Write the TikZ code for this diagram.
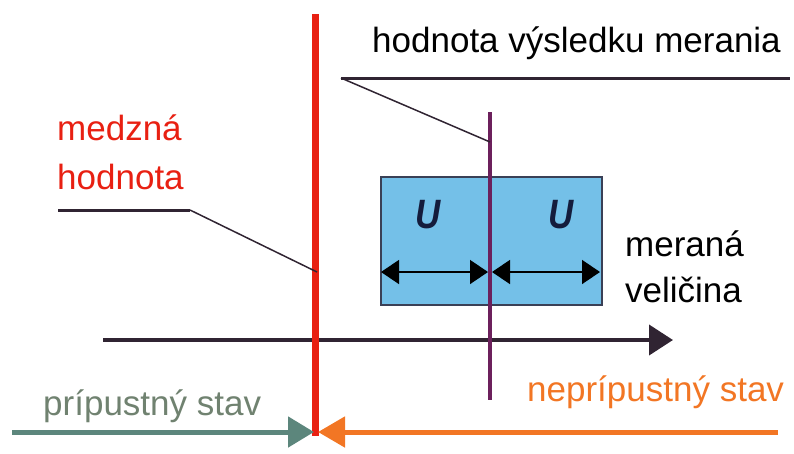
\documentclass[tikz,border=0pt]{standalone}
\usepackage{fontspec}
\setmainfont{Liberation Sans}
\usetikzlibrary{arrows.meta}
\definecolor{limred}{RGB}{232,32,18}
\definecolor{resviolet}{RGB}{108,32,92}
\definecolor{darkline}{RGB}{48,36,50}
\definecolor{boxfill}{RGB}{116,192,232}
\definecolor{boxedge}{RGB}{58,64,86}
\definecolor{okgreen}{RGB}{92,134,124}
\definecolor{oktext}{RGB}{112,130,112}
\definecolor{nokorange}{RGB}{242,118,36}
\definecolor{ulabel}{RGB}{20,28,60}
\tikzset{
  lbl/.style={inner sep=0pt, anchor=base west, font=\fontsize{35}{40}\selectfont},
  ulbl/.style={inner sep=0pt, anchor=base, text=ulabel, font=\fontsize{41}{44}\selectfont\bfseries\itshape, xscale=0.85},
  leader/.style={draw=darkline, line width=1.5pt},
  shelf/.style={draw=darkline, line width=3pt},
  dimarrow/.style={draw=black, line width=1.5pt, {Triangle[length=18pt,width=24pt]}-{Triangle[length=18pt,width=24pt]}}
}
\begin{document}
\begin{tikzpicture}[x=1pt,y=-1pt]
\useasboundingbox (0,0) rectangle (794,453);
% box
\node[draw=boxedge, fill=boxfill, line width=2pt, minimum width=221pt, minimum height=128pt, inner sep=0pt, anchor=north west] (box) at (380,176) {};
% axis
\coordinate (axL) at (103,340);
\coordinate (axR) at (673,340);
\draw[darkline, line width=4pt, -{Triangle[length=24pt,width=30pt]}] (axL) -- (axR);
% dimension arrows
\coordinate (d1) at (381,272);
\coordinate (d2) at (488,272);
\coordinate (d3) at (492,272);
\coordinate (d4) at (600,272);
\draw[dimarrow] (d1) -- (d2);
\draw[dimarrow] (d3) -- (d4);
\node[ulbl] (u1) at (428,228) {U};
\node[ulbl] (u2) at (561,228) {U};
% result line
\coordinate (rTop) at (490,112);
\coordinate (rBot) at (490,400);
\draw[resviolet, line width=4pt] (rTop) -- (rBot);
% limit line
\coordinate (lTop) at (315,14);
\coordinate (lBot) at (315,436);
\draw[limred, line width=7pt] (lTop) -- (lBot);
% top label and leader
\node[lbl] (res) at (372,52) {hodnota výsledku merania};
\coordinate (s1) at (341,78);
\coordinate (s2) at (790,78);
\coordinate (s3) at (490,142);
\draw[shelf] (s1) -- (s2);
\draw[leader] (s1) -- (s3);
% limit label and leader
\node[lbl, text=limred] (m1) at (57,140) {medzná};
\node[lbl, text=limred] (m2) at (57,189) {hodnota};
\coordinate (t1) at (58,210);
\coordinate (t2) at (190,210);
\coordinate (t3) at (317,272);
\draw[shelf] (t1) -- (t2);
\draw[leader] (t2) -- (t3);
% measured quantity
\node[lbl] (q1) at (625,256) {meraná};
\node[lbl] (q2) at (625,302) {veličina};
% bottom arrows
\node[lbl, text=oktext] (ok) at (43,415) {prípustný stav};
\node[lbl, text=nokorange] (nok) at (527,401) {neprípustný stav};
\coordinate (g1) at (12,432);
\coordinate (g2) at (314,432);
\coordinate (o1) at (778,432);
\coordinate (o2) at (318,432);
\draw[okgreen, line width=5pt, -{Triangle[length=26pt,width=30pt]}] (g1) -- (g2);
\draw[nokorange, line width=5pt, -{Triangle[length=27pt,width=30pt]}] (o1) -- (o2);
\end{tikzpicture}
\end{document}
